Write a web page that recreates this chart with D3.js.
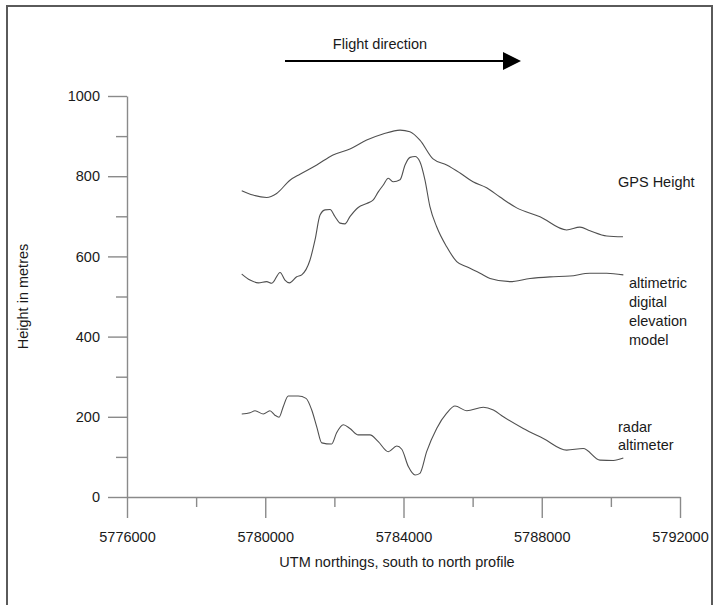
<!DOCTYPE html>
<html>
<head>
<meta charset="utf-8">
<script src="https://cdn.jsdelivr.net/npm/d3@7"></script>
<style>
  body { margin: 0; background: #fff; }
  #runApp svg text { font-family: "Liberation Sans", Arial, Helvetica, sans-serif; fill: #1a1a1a; }
</style>
</head>
<body>
<div id="runApp"></div>
<script>
let svg;

const width = 718;
const height = 605;
const fontSize = 14.5;

// x axis ticks (UTM northings) and y axis ticks (metres)
const xTicks = [5776000, 5780000, 5784000, 5788000, 5792000];
const xMinorTicks = [5778000, 5782000, 5786000, 5790000];
const yTicks = [0, 200, 400, 600, 800, 1000];
const yMinorTicks = [100, 300, 500, 700, 900];

// GPS height
const gpsNorthing = [5779320, 5779645, 5780040, 5780330, 5780715, 5781005, 5781490, 5781960,
  5782450, 5782935, 5783405, 5783900, 5784185, 5784475, 5784855, 5785250, 5785635, 5786010,
  5786405, 5786790, 5787275, 5787950, 5788720, 5789105, 5789395, 5789880, 5790350];
const gpsHeight = [764, 753, 747, 757, 790, 805, 828, 853,
  868, 890, 905, 915, 911, 890, 843, 828, 808, 786,
  771, 748, 721, 699, 666, 673, 664, 651, 649];

// altimetric digital elevation model
const demNorthing = [5779320, 5779560, 5779800, 5780040, 5780190, 5780430, 5780570, 5780700,
  5780910, 5781055, 5781295, 5781440, 5781585, 5781730, 5781875, 5782020, 5782165, 5782305,
  5782450, 5782690, 5782935, 5783125, 5783270, 5783415, 5783560, 5783705, 5783900, 5784045,
  5784190, 5784335, 5784475, 5784620, 5784765, 5784960, 5785250, 5785540, 5785830, 5786215,
  5786505, 5787080, 5787660, 5788240, 5788815, 5789395, 5789880, 5790360];
const demHeight = [556, 541, 534, 537, 533, 560, 541, 534,
  549, 554, 591, 641, 703, 716, 717, 699, 683, 681,
  699, 722, 732, 741, 761, 778, 795, 786, 791, 828,
  847, 849, 836, 791, 724, 674, 624, 587, 574, 558,
  545, 537, 545, 549, 551, 558, 558, 554];

// radar altimeter
const radarNorthing = [5779320, 5779560, 5779705, 5779945, 5780135, 5780280, 5780400, 5780520,
  5780665, 5780955, 5781180, 5781345, 5781490, 5781635, 5781920, 5782065, 5782260, 5782450,
  5782690, 5783030, 5783270, 5783560, 5783805, 5783950, 5784140, 5784335, 5784475, 5784670,
  5784960, 5785250, 5785490, 5785830, 5786310, 5786600, 5786890, 5787465, 5788045, 5788720,
  5789200, 5789685, 5790070, 5790360];
const radarHeight = [207, 210, 215, 207, 215, 204, 199, 225,
  252, 252, 246, 217, 175, 135, 132, 160, 180, 171,
  155, 155, 138, 113, 127, 119, 76, 55, 59, 113,
  171, 209, 227, 215, 224, 217, 200, 171, 146, 117,
  121, 92, 91, 97];

const x = d3.scaleLinear().domain([5776000, 5792000]).range([127, 680]);
const y = d3.scaleLinear().domain([0, 1000]).range([497, 96]);

async function prepareVis() {
  svg = d3
    .select("#runApp")
    .append("svg")
    .attr("width", width)
    .attr("height", height)
    .style("background", "#fff");

  // outer frame
  svg
    .append("rect")
    .attr("x", 7)
    .attr("y", 6)
    .attr("width", 705)
    .attr("height", 610)
    .attr("fill", "none")
    .attr("stroke", "#5a5a5a")
    .attr("stroke-width", 2);
}

function styleAxis(g) {
  g.selectAll("path, line").attr("stroke", "#8a8a8a").attr("stroke-width", 1.4);
  g.selectAll("text").attr("font-size", fontSize).attr("fill", "#1a1a1a");
}

function drawAxes() {
  // minor ticks first, then the labelled axis on top
  svg
    .append("g")
    .attr("transform", `translate(0, ${y(0)})`)
    .call(d3.axisBottom(x).tickValues(xMinorTicks).tickSize(10).tickFormat(""))
    .call(styleAxis)
    .call((g) => g.select(".domain").remove());

  svg
    .append("g")
    .attr("transform", `translate(0, ${y(0)})`)
    .call(d3.axisBottom(x).tickValues(xTicks).tickSize(21).tickSizeOuter(0).tickPadding(14).tickFormat(d3.format("d")))
    .call(styleAxis);

  svg
    .append("g")
    .attr("transform", `translate(${x(5776000)}, 0)`)
    .call(d3.axisLeft(y).tickValues(yMinorTicks).tickSize(11).tickFormat(""))
    .call(styleAxis)
    .call((g) => g.select(".domain").remove());

  svg
    .append("g")
    .attr("transform", `translate(${x(5776000)}, 0)`)
    .call(d3.axisLeft(y).tickValues(yTicks).tickSize(19).tickSizeOuter(0).tickPadding(8).tickFormat(d3.format("d")))
    .call(styleAxis);

  // axis titles
  svg
    .append("text")
    .attr("x", 397)
    .attr("y", 567)
    .attr("text-anchor", "middle")
    .attr("font-size", fontSize)
    .text("UTM northings, south to north profile");

  svg
    .append("text")
    .attr("transform", `translate(28, ${(y(0) + y(1000)) / 2}) rotate(-90)`)
    .attr("text-anchor", "middle")
    .attr("font-size", fontSize)
    .text("Height in metres");
}

function drawProfile(northings, heights) {
  const points = northings.map((n, i) => [n, heights[i]]);
  svg
    .append("path")
    .datum(points)
    .attr("fill", "none")
    .attr("stroke", "#505050")
    .attr("stroke-width", 1.1)
    .attr("d", d3.line().x((d) => x(d[0])).y((d) => y(d[1])).curve(d3.curveMonotoneX));
}

function drawLabels() {
  // flight direction arrow
  svg
    .append("text")
    .attr("x", 380)
    .attr("y", 49)
    .attr("text-anchor", "middle")
    .attr("font-size", fontSize)
    .text("Flight direction");

  svg
    .append("line")
    .attr("x1", 285)
    .attr("x2", 506)
    .attr("y1", 61)
    .attr("y2", 61)
    .attr("stroke", "black")
    .attr("stroke-width", 2);

  svg
    .append("path")
    .attr("d", "M503,52 L521,61 L503,70 Z")
    .attr("fill", "black");

  const labels = [
    { text: "GPS Height", x: 618, y: 187 },
    { text: "altimetric", x: 629, y: 288 },
    { text: "digital", x: 629, y: 307 },
    { text: "elevation", x: 629, y: 326 },
    { text: "model", x: 629, y: 345 },
    { text: "radar", x: 618, y: 432 },
    { text: "altimeter", x: 618, y: 450 },
  ];

  svg
    .selectAll("text.series")
    .data(labels)
    .join("text")
    .attr("class", "series")
    .attr("x", (d) => d.x)
    .attr("y", (d) => d.y)
    .attr("font-size", fontSize)
    .text((d) => d.text);
}

async function drawVis() {
  drawAxes();
  drawProfile(gpsNorthing, gpsHeight);
  drawProfile(demNorthing, demHeight);
  drawProfile(radarNorthing, radarHeight);
  drawLabels();
}

async function runApp() {
  await prepareVis();
  await drawVis();
}

runApp();
</script>
</body>
</html>
